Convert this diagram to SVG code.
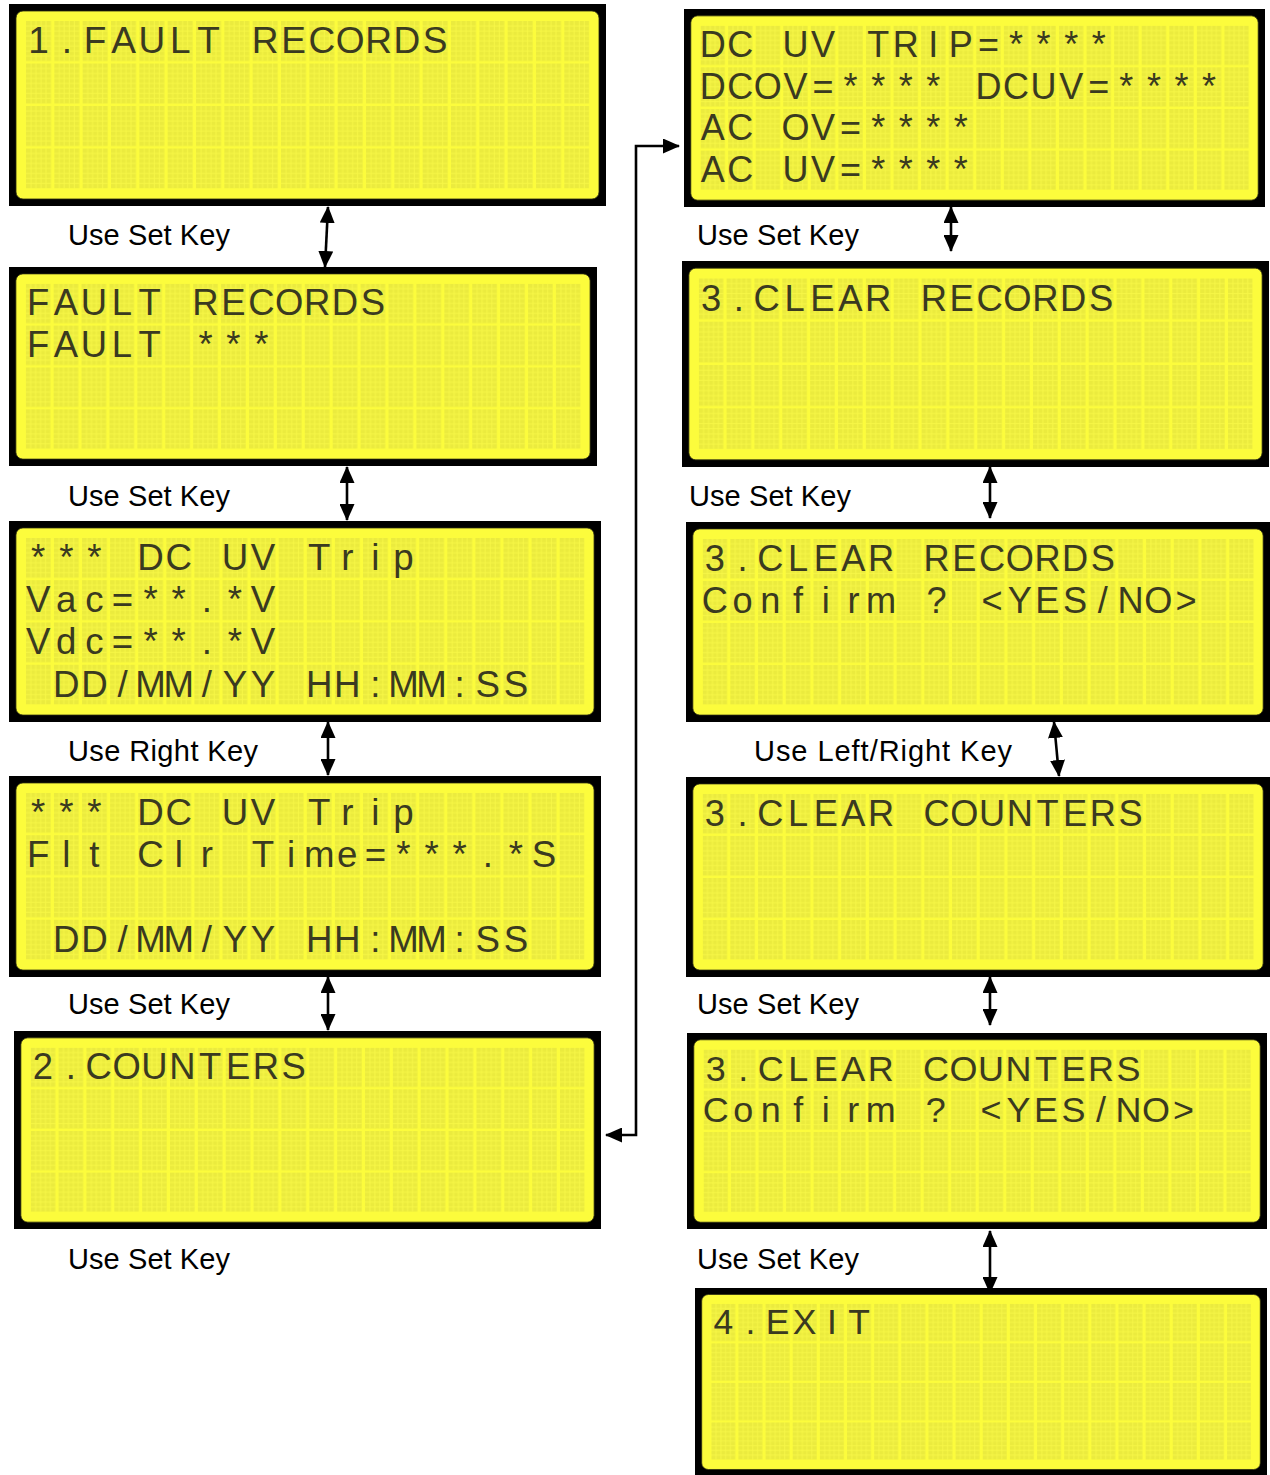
<svg xmlns="http://www.w3.org/2000/svg" xmlns:xlink="http://www.w3.org/1999/xlink" width="1270" height="1475" viewBox="0 0 1270 1475">
<style>
.lcdtxt{font-family:"Liberation Sans",Arial,sans-serif;font-size:37px;fill:#3a3a20;text-anchor:middle;white-space:pre}
.lbl{font-family:"Liberation Sans",Arial,sans-serif;font-size:29px;fill:#000}
.conn{fill:none;stroke:#000;stroke-width:2.6}
</style>
<defs>
<pattern id="cells" patternUnits="userSpaceOnUse" x="17" y="17" width="28.333" height="42.5">
<rect width="25" height="40" fill="#ebeb3e"/>
<path d="M5 0v40M10 0v40M15 0v40M20 0v40M0 5h25M0 10h25M0 15h25M0 20h25M0 25h25M0 30h25M0 35h25" stroke="#f7f746" stroke-width="0.9"/>
</pattern>
<g id="lcd">
<rect x="0" y="0" width="597" height="202" fill="#000"/>
<rect x="7" y="7" width="583" height="188" rx="7" fill="#fcfc3c" stroke="#2a2a10" stroke-width="0.8"/>
<rect x="17" y="17" width="563.33" height="167.5" fill="url(#cells)"/>
</g>
<marker id="ah" viewBox="0 0 17 15" markerUnits="userSpaceOnUse" markerWidth="17" markerHeight="15" refX="16" refY="7.5" orient="auto-start-reverse">
<path d="M0 0L17 7.5L0 15z" fill="#000"/>
</marker>
</defs>

<g id="screen-1" transform="translate(9,4)">
<use xlink:href="#lcd" href="#lcd"/>
<text class="lcdtxt" y="49" x="29.5 57.83 86.17 114.5 142.83 171.17 199.5 227.83 256.17 284.5 312.83 341.17 369.5 397.83 426.17 454.5 482.83 511.17 539.5 567.83">1.FAULT RECORDS</text>
</g>
<g id="screen-2" transform="translate(9,267) scale(0.98492,0.98515)">
<use xlink:href="#lcd" href="#lcd"/>
<text class="lcdtxt" y="49" x="29.5 57.83 86.17 114.5 142.83 171.17 199.5 227.83 256.17 284.5 312.83 341.17 369.5 397.83 426.17 454.5 482.83 511.17 539.5 567.83">FAULT RECORDS</text>
<text class="lcdtxt" y="91.5" x="29.5 57.83 86.17 114.5 142.83 171.17 199.5 227.83 256.17 284.5 312.83 341.17 369.5 397.83 426.17 454.5 482.83 511.17 539.5 567.83">FAULT ***</text>
</g>
<g id="screen-3" transform="translate(9,521) scale(0.99162,0.99505)">
<use xlink:href="#lcd" href="#lcd"/>
<text class="lcdtxt" y="49" x="29.5 57.83 86.17 114.5 142.83 171.17 199.5 227.83 256.17 284.5 312.83 341.17 369.5 397.83 426.17 454.5 482.83 511.17 539.5 567.83">*** DC UV Trip</text>
<text class="lcdtxt" y="91.5" x="29.5 57.83 86.17 114.5 142.83 171.17 199.5 227.83 256.17 284.5 312.83 341.17 369.5 397.83 426.17 454.5 482.83 511.17 539.5 567.83">Vac=**.*V</text>
<text class="lcdtxt" y="134" x="29.5 57.83 86.17 114.5 142.83 171.17 199.5 227.83 256.17 284.5 312.83 341.17 369.5 397.83 426.17 454.5 482.83 511.17 539.5 567.83">Vdc=**.*V</text>
<text class="lcdtxt" y="176.5" x="57.83 86.17 114.5 142.83 171.17 199.5 227.83 256.17 284.5 312.83 341.17 369.5 397.83 426.17 454.5 482.83 511.17 539.5 567.83">DD/MM/YY HH:MM:SS</text>
</g>
<g id="screen-4" transform="translate(9,776) scale(0.99162,0.99505)">
<use xlink:href="#lcd" href="#lcd"/>
<text class="lcdtxt" y="49" x="29.5 57.83 86.17 114.5 142.83 171.17 199.5 227.83 256.17 284.5 312.83 341.17 369.5 397.83 426.17 454.5 482.83 511.17 539.5 567.83">*** DC UV Trip</text>
<text class="lcdtxt" y="91.5" x="29.5 57.83 86.17 114.5 142.83 171.17 199.5 227.83 256.17 284.5 312.83 341.17 369.5 397.83 426.17 454.5 482.83 511.17 539.5 567.83">Flt Clr Time=***.*S</text>
<text class="lcdtxt" y="176.5" x="57.83 86.17 114.5 142.83 171.17 199.5 227.83 256.17 284.5 312.83 341.17 369.5 397.83 426.17 454.5 482.83 511.17 539.5 567.83">DD/MM/YY HH:MM:SS</text>
</g>
<g id="screen-5" transform="translate(14,1031) scale(0.98325,0.9802)">
<use xlink:href="#lcd" href="#lcd"/>
<text class="lcdtxt" y="49" x="29.5 57.83 86.17 114.5 142.83 171.17 199.5 227.83 256.17 284.5 312.83 341.17 369.5 397.83 426.17 454.5 482.83 511.17 539.5 567.83">2.COUNTERS</text>
</g>
<g id="screen-6" transform="translate(684,9) scale(0.9732,0.9802)">
<use xlink:href="#lcd" href="#lcd"/>
<text class="lcdtxt" y="49" x="29.5 57.83 86.17 114.5 142.83 171.17 199.5 227.83 256.17 284.5 312.83 341.17 369.5 397.83 426.17 454.5 482.83 511.17 539.5 567.83">DC UV TRIP=****</text>
<text class="lcdtxt" y="91.5" x="29.5 57.83 86.17 114.5 142.83 171.17 199.5 227.83 256.17 284.5 312.83 341.17 369.5 397.83 426.17 454.5 482.83 511.17 539.5 567.83">DCOV=**** DCUV=****</text>
<text class="lcdtxt" y="134" x="29.5 57.83 86.17 114.5 142.83 171.17 199.5 227.83 256.17 284.5 312.83 341.17 369.5 397.83 426.17 454.5 482.83 511.17 539.5 567.83">AC OV=****</text>
<text class="lcdtxt" y="176.5" x="29.5 57.83 86.17 114.5 142.83 171.17 199.5 227.83 256.17 284.5 312.83 341.17 369.5 397.83 426.17 454.5 482.83 511.17 539.5 567.83">AC UV=****</text>
</g>
<g id="screen-7" transform="translate(682,261) scale(0.98325,1.0198)">
<use xlink:href="#lcd" href="#lcd"/>
<text class="lcdtxt" y="49" x="29.5 57.83 86.17 114.5 142.83 171.17 199.5 227.83 256.17 284.5 312.83 341.17 369.5 397.83 426.17 454.5 482.83 511.17 539.5 567.83">3.CLEAR RECORDS</text>
</g>
<g id="screen-8" transform="translate(686,522) scale(0.97822,0.9901)">
<use xlink:href="#lcd" href="#lcd"/>
<text class="lcdtxt" y="49" x="29.5 57.83 86.17 114.5 142.83 171.17 199.5 227.83 256.17 284.5 312.83 341.17 369.5 397.83 426.17 454.5 482.83 511.17 539.5 567.83">3.CLEAR RECORDS</text>
<text class="lcdtxt" y="91.5" x="29.5 57.83 86.17 114.5 142.83 171.17 199.5 227.83 256.17 284.5 312.83 341.17 369.5 397.83 426.17 454.5 482.83 511.17 539.5 567.83">Confirm ? &lt;YES/NO&gt;</text>
</g>
<g id="screen-9" transform="translate(686,777) scale(0.97822,0.9901)">
<use xlink:href="#lcd" href="#lcd"/>
<text class="lcdtxt" y="49" x="29.5 57.83 86.17 114.5 142.83 171.17 199.5 227.83 256.17 284.5 312.83 341.17 369.5 397.83 426.17 454.5 482.83 511.17 539.5 567.83">3.CLEAR COUNTERS</text>
</g>
<g id="screen-10" transform="translate(687,1033) scale(0.97152,0.9703)">
<use xlink:href="#lcd" href="#lcd"/>
<text class="lcdtxt" y="49" x="29.5 57.83 86.17 114.5 142.83 171.17 199.5 227.83 256.17 284.5 312.83 341.17 369.5 397.83 426.17 454.5 482.83 511.17 539.5 567.83">3.CLEAR COUNTERS</text>
<text class="lcdtxt" y="91.5" x="29.5 57.83 86.17 114.5 142.83 171.17 199.5 227.83 256.17 284.5 312.83 341.17 369.5 397.83 426.17 454.5 482.83 511.17 539.5 567.83">Confirm ? &lt;YES/NO&gt;</text>
</g>
<g id="screen-11" transform="translate(695,1288) scale(0.95812,0.9307)">
<use xlink:href="#lcd" href="#lcd"/>
<text class="lcdtxt" y="49" x="29.5 57.83 86.17 114.5 142.83 171.17 199.5 227.83 256.17 284.5 312.83 341.17 369.5 397.83 426.17 454.5 482.83 511.17 539.5 567.83">4.EXIT</text>
</g>

<g id="labels">
<text class="lbl" x="68" y="245" textLength="162">Use Set Key</text>
<text class="lbl" x="68" y="506" textLength="162">Use Set Key</text>
<text class="lbl" x="68" y="761" textLength="190">Use Right Key</text>
<text class="lbl" x="68" y="1014" textLength="162">Use Set Key</text>
<text class="lbl" x="68" y="1269" textLength="162">Use Set Key</text>
<text class="lbl" x="697" y="245" textLength="162">Use Set Key</text>
<text class="lbl" x="689" y="506" textLength="162">Use Set Key</text>
<text class="lbl" x="754" y="761" textLength="258">Use Left/Right Key</text>
<text class="lbl" x="697" y="1014" textLength="162">Use Set Key</text>
<text class="lbl" x="697" y="1269" textLength="162">Use Set Key</text>
</g>

<g id="connectors">
<path class="conn" d="M328 207L325 267" marker-start="url(#ah)" marker-end="url(#ah)"/>
<path class="conn" d="M347 467L347 520" marker-start="url(#ah)" marker-end="url(#ah)"/>
<path class="conn" d="M328 722L328 775" marker-start="url(#ah)" marker-end="url(#ah)"/>
<path class="conn" d="M328 977L328 1030" marker-start="url(#ah)" marker-end="url(#ah)"/>
<path class="conn" d="M951 207L951 251" marker-start="url(#ah)" marker-end="url(#ah)"/>
<path class="conn" d="M990 467L990 518" marker-start="url(#ah)" marker-end="url(#ah)"/>
<path class="conn" d="M1054 722L1059 776" marker-start="url(#ah)" marker-end="url(#ah)"/>
<path class="conn" d="M990 977L990 1025" marker-start="url(#ah)" marker-end="url(#ah)"/>
<path class="conn" d="M990 1231L990 1293" marker-start="url(#ah)" marker-end="url(#ah)"/>
<path class="conn" d="M606 1135H636V146H679" marker-start="url(#ah)" marker-end="url(#ah)"/>
</g>
</svg>
